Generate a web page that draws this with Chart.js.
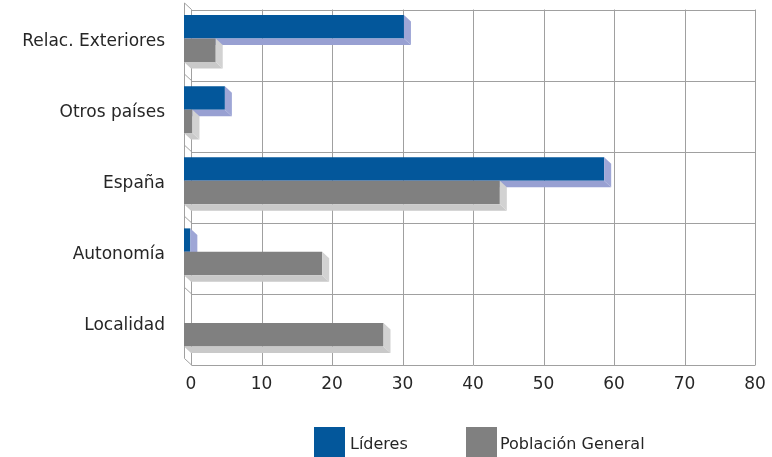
<!DOCTYPE html>
<html>
<head>
<meta charset="utf-8">
<script src="https://cdn.jsdelivr.net/npm/chart.js@4/dist/chart.umd.min.js"></script>
<style>
  html, body { margin: 0; padding: 0; background: #ffffff; }
  #wrap { width: 772px; height: 457px; }
</style>
</head>
<body>
<div id="wrap"><canvas id="c" width="772" height="457"></canvas></div>
<script>
// Categories and values (percent)
const categories = ['Relac. Exteriores', 'Otros países', 'España', 'Autonomía', 'Localidad'];
const lideres    = [31.2, 5.8, 59.6, 0.9, 0];
const poblacion  = [4.5, 1.2, 44.8, 19.6, 28.3];
const seriesNames = ['Líderes', 'Población General'];
const xTickValues = [0, 10, 20, 30, 40, 50, 60, 70, 80];

// Drawing style
const FONT = 'DejaVu Sans';
const DEPTH_X = 7, DEPTH_Y = 6.5;           // offset of the back wall from the front plane
const GRID = '#a0a0a0';
const TEXT = '#262626';
const frontColors = ['#03579b', '#808080'];
const sideColors  = ['#9ea6d6', '#d2d2d2'];
const bottomColors = ['#98a0d2', '#c9c9c9'];

// Back wall, left wall and floor of the 3D box, with grid lines
const wallsPlugin = {
  id: 'walls',
  beforeDatasetsDraw(chart) {
    const { ctx, chartArea: a, scales: { x } } = chart;
    const px = v => Math.round(v) + 0.5;
    const x0 = x.getPixelForValue(0), x1 = x.getPixelForValue(80);
    const n = categories.length;
    const band = (a.bottom - a.top) / n;
    ctx.save();
    ctx.strokeStyle = GRID;
    ctx.lineWidth = 1;
    ctx.beginPath();
    // vertical grid lines on the back wall
    xTickValues.forEach(v => {
      const gx = px(x.getPixelForValue(v) + DEPTH_X);
      ctx.moveTo(gx, a.top + DEPTH_Y);
      ctx.lineTo(gx, a.bottom + DEPTH_Y);
    });
    // horizontal category lines on the back wall + diagonals on the left wall
    for (let i = 0; i <= n; i++) {
      const yb = a.top + i * band;
      const gy = px(yb + DEPTH_Y);
      ctx.moveTo(px(x0 + DEPTH_X), gy);
      ctx.lineTo(px(x1 + DEPTH_X), gy);
      ctx.moveTo(px(x0), yb);
      ctx.lineTo(px(x0 + DEPTH_X), yb + DEPTH_Y);
    }
    // front edge of the left wall
    ctx.moveTo(px(x0), a.top);
    ctx.lineTo(px(x0), a.bottom);
    ctx.stroke();
    ctx.restore();
  }
};

// Bars with their depth faces, drawn series by series so the lower bar covers the upper one's floor face
const bars3dPlugin = {
  id: 'bars3d',
  beforeDatasetDraw() { return false; },
  afterDatasetsDraw(chart) {
    const { ctx } = chart;
    chart.data.datasets.forEach((ds, di) => {
      const meta = chart.getDatasetMeta(di);
      meta.data.forEach((el, i) => {
        if (!ds.data[i]) return;
        const { x, y, base, height } = el.getProps(['x', 'y', 'base', 'height'], true);
        const top = y - height / 2, bottom = y + height / 2;
        el.draw(ctx);
        ctx.save();
        // floor face
        ctx.fillStyle = bottomColors[di];
        ctx.beginPath();
        ctx.moveTo(base, bottom);
        ctx.lineTo(x, bottom);
        ctx.lineTo(x + DEPTH_X, bottom + DEPTH_Y);
        ctx.lineTo(base + DEPTH_X, bottom + DEPTH_Y);
        ctx.closePath();
        ctx.fill();
        // end face
        ctx.fillStyle = sideColors[di];
        ctx.beginPath();
        ctx.moveTo(x, top);
        ctx.lineTo(x + DEPTH_X, top + DEPTH_Y);
        ctx.lineTo(x + DEPTH_X, bottom + DEPTH_Y);
        ctx.lineTo(x, bottom);
        ctx.closePath();
        ctx.fill();
        ctx.restore();
      });
    });
  }
};

// Legend with large square swatches below the axis
const legendPlugin = {
  id: 'swatchLegend',
  afterDraw(chart) {
    const { ctx } = chart;
    const items = [
      { box: 314, text: 350 },
      { box: 466, text: 500 }
    ];
    ctx.save();
    ctx.font = '16px "' + FONT + '"';
    ctx.textBaseline = 'middle';
    chart.data.datasets.forEach((ds, di) => {
      const it = items[di];
      ctx.fillStyle = frontColors[di];
      ctx.fillRect(it.box, 427, 31, 31);
      ctx.fillStyle = TEXT;
      ctx.fillText(ds.label, it.text, 445);
    });
    ctx.restore();
  }
};

new Chart(document.getElementById('c'), {
  type: 'bar',
  data: {
    labels: categories,
    datasets: [
      { label: seriesNames[0], data: lideres, backgroundColor: frontColors[0] },
      { label: seriesNames[1], data: poblacion, backgroundColor: frontColors[1] }
    ]
  },
  options: {
    indexAxis: 'y',
    responsive: false,
    animation: false,
    events: [],
    categoryPercentage: 0.66,
    barPercentage: 1,
    layout: { padding: { top: 3, right: 24, left: 0, bottom: 0 } },
    plugins: {
      legend: { display: false },
      tooltip: { enabled: false }
    },
    scales: {
      x: {
        type: 'linear',
        min: 0,
        max: 80,
        afterBuildTicks: s => { s.ticks = xTickValues.map(v => ({ value: v })); },
        grid: { display: false, drawTicks: false },
        border: { display: false },
        ticks: {
          font: { family: FONT, size: 17 },
          color: TEXT,
          padding: 16,
          labelOffset: DEPTH_X,
          maxRotation: 0
        },
        afterFit: s => { s.height = 98.5; s.paddingLeft = 0; s.paddingRight = 0; }
      },
      y: {
        type: 'category',
        grid: { display: false, drawTicks: false },
        border: { display: false },
        ticks: {
          font: { family: FONT, size: 17 },
          color: TEXT,
          padding: 19,
          labelOffset: 3
        },
        afterFit: s => { s.width = 184; s.paddingTop = 0; s.paddingBottom = 0; }
      }
    }
  },
  plugins: [wallsPlugin, bars3dPlugin, legendPlugin]
});
</script>
</body>
</html>
